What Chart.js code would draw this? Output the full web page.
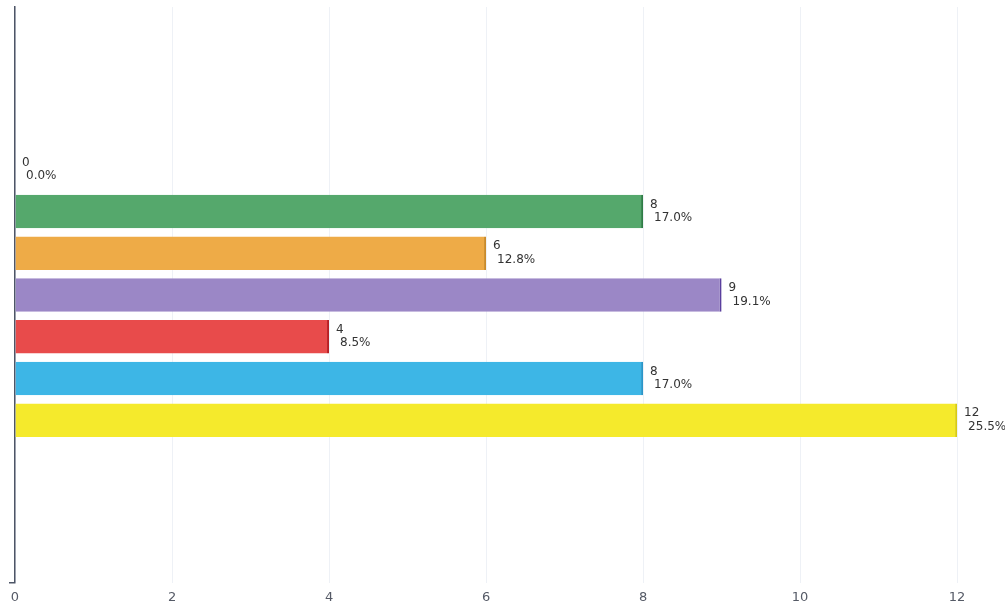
<!DOCTYPE html>
<html>
<head>
<meta charset="utf-8">
<script src="https://cdn.jsdelivr.net/npm/chart.js@4/dist/chart.umd.min.js"></script>
<style>
  html, body { margin: 0; padding: 0; background: #ffffff; }
  #wrap { width: 1005px; height: 609px; position: relative; }
</style>
</head>
<body>
<div id="wrap"><canvas id="c"></canvas></div>
<script>
// ---- data ----
const categories = ["Item 1", "Item 2", "Item 3", "Item 4", "Item 5", "Item 6", "Item 7"];
const values = [0, 8, 6, 9, 4, 8, 12];
const barColors = ["#9e9e9e", "#55a86c", "#eeab47", "#9b87c6", "#e84b4b", "#3db6e6", "#f5ea2c"];
const borderColors = ["#777777", "#2f7d45", "#c98a2a", "#5a3f9e", "#b81f24", "#2a96c8", "#d8cb10"];
const xTicks = [0, 2, 4, 6, 8, 10, 12];

const total = values.reduce((a, b) => a + b, 0);
const percents = values.map(v => (v / total * 100).toFixed(1) + "%");

const points = values.map((v, i) => ({ x: v, y: i }));

const labelPlugin = {
  id: "barLabels",
  afterDatasetsDraw(chart) {
    const ctx = chart.ctx;
    const meta = chart.getDatasetMeta(0);
    ctx.save();
    ctx.font = "12px 'DejaVu Sans'";
    ctx.fillStyle = "#333333";
    ctx.textBaseline = "middle";
    ctx.textAlign = "left";
    meta.data.forEach((bar, i) => {
      const x = bar.x;
      const y = bar.y;
      ctx.fillText(String(values[i]), x + 7, y - 7);
      ctx.fillText(percents[i], x + 11, y + 6.5);
    });
    ctx.restore();
  }
};

new Chart(document.getElementById("c"), {
  type: "bar",
  data: {
    datasets: [{
      label: "Count",
      data: points,
      backgroundColor: barColors,
      borderColor: borderColors,
      borderWidth: { top: 0, bottom: 0, left: 0, right: 2 },
      borderSkipped: false,
      barPercentage: 0.8,
      categoryPercentage: 1.0
    }]
  },
  options: {
    indexAxis: "y",
    responsive: true,
    maintainAspectRatio: false,
    animation: false,
    layout: { padding: { top: 7, left: 9, right: 0, bottom: -4 } },
    plugins: {
      legend: { display: false },
      tooltip: {
        callbacks: {
          title: (items) => categories[items[0].parsed.y]
        }
      }
    },
    scales: {
      x: {
        type: "linear",
        min: 0,
        max: 12.61,
        afterBuildTicks: (scale) => {
          scale.ticks = xTicks.map(v => ({ value: v }));
        },
        grid: { color: "#eef1f6", lineWidth: 1, drawTicks: false },
        border: { display: false },
        ticks: {
          padding: 8.5,
          color: "#555a66",
          font: { family: "'DejaVu Sans'", size: 13, lineHeight: 1 }
        }
      },
      y: {
        type: "linear",
        reverse: true,
        offset: false,
        min: -3.9,
        max: 9.9,
        afterBuildTicks: (scale) => {
          scale.ticks = [{ value: scale.max }];
        },
        grid: { offset: false, drawOnChartArea: false, drawTicks: true, tickLength: 6, color: "#4d5566", lineWidth: 1.5 },
        border: { display: true, color: "#4d5566", width: 1.5 },
        ticks: { display: false }
      }
    }
  },
  plugins: [labelPlugin]
});
</script>
</body>
</html>
